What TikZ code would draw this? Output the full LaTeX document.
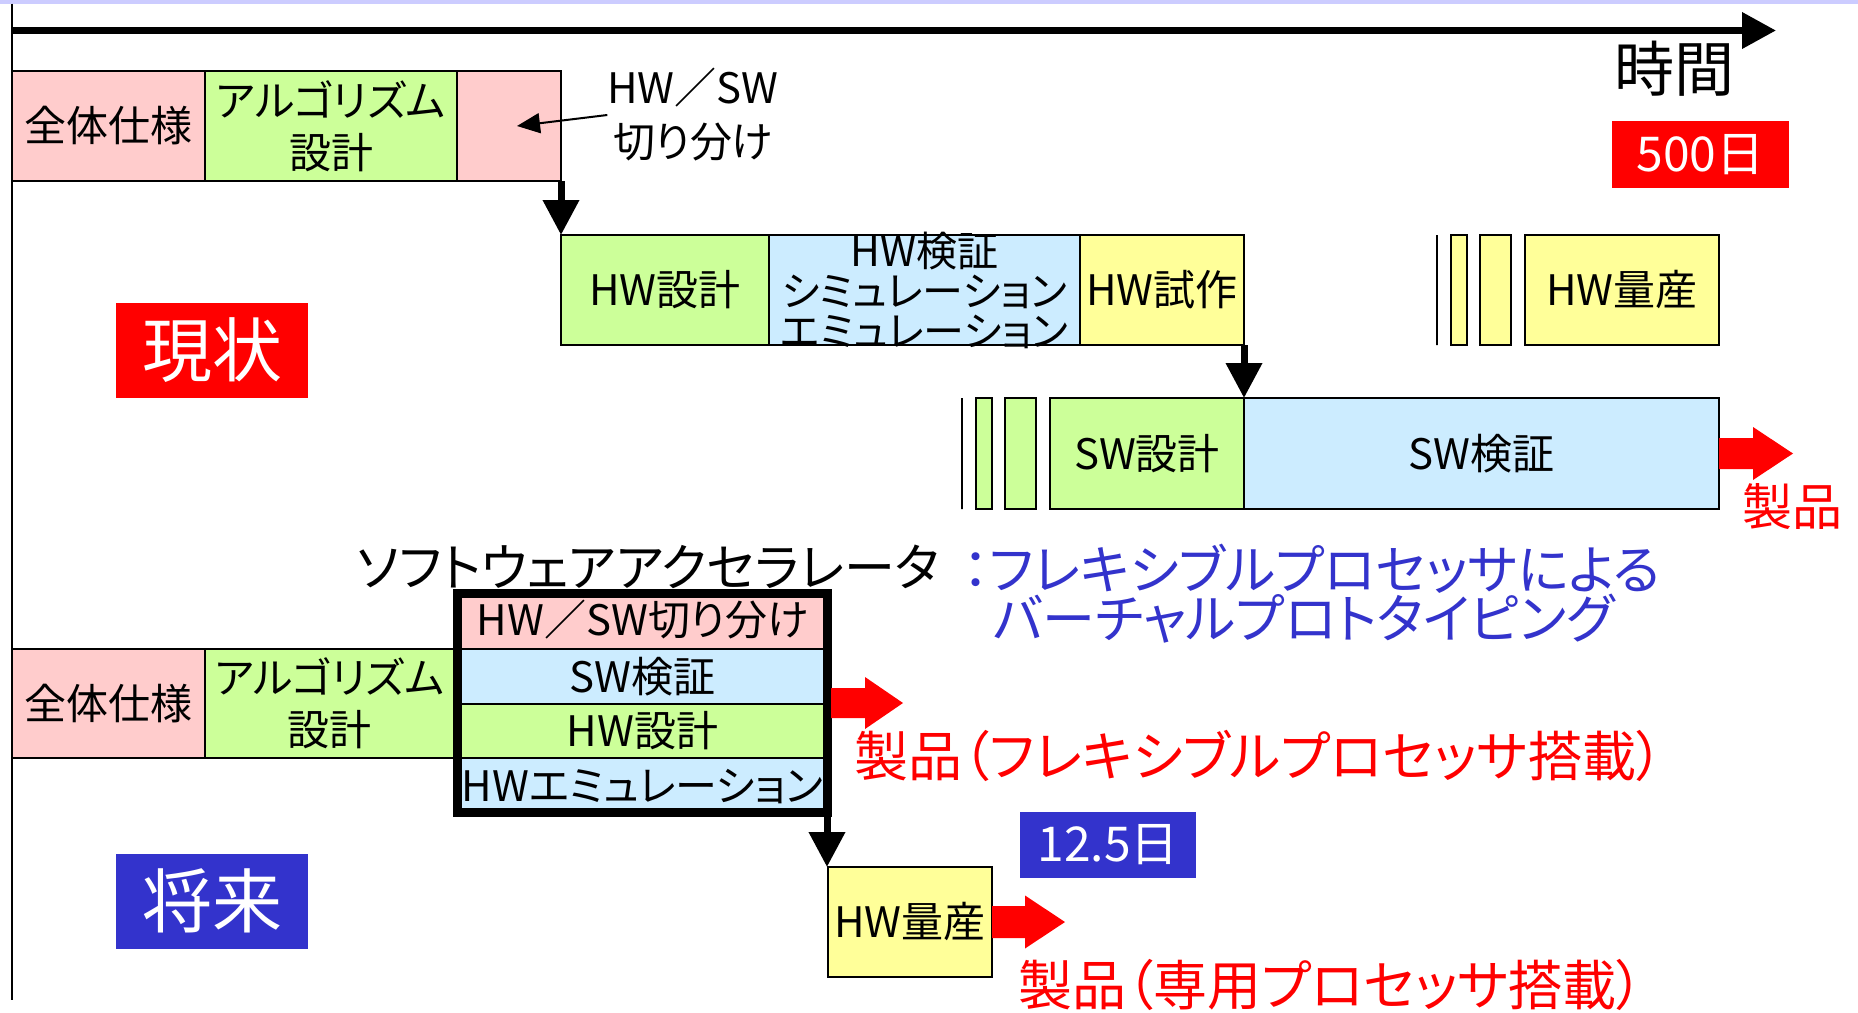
\documentclass[tikz,border=0pt]{standalone}
\usepackage{fontspec}
\setmainfont{Noto Sans CJK JP}[RawFeature=+palt]
\usetikzlibrary{arrows.meta}
\definecolor{pinkc}{HTML}{FFCCCC}
\definecolor{greenc}{HTML}{CCFF99}
\definecolor{bluec}{HTML}{CCECFF}
\definecolor{yellowc}{HTML}{FFFF99}
\definecolor{navy}{HTML}{3333CC}
\definecolor{lav}{HTML}{CCCCFF}
\newcommand{\fsz}[2]{\fontsize{#1pt}{#2pt}\selectfont}
\begin{document}
\begin{tikzpicture}[x=0.5pt,y=-0.5pt,
  box/.style={draw=black, line width=1pt, inner sep=0pt, outer sep=0pt, align=center, font=\fsz{21}{26}},
  tag/.style={inner sep=0pt, outer sep=0pt, align=center},
  dnarrow/.style={line width=3.5pt, -{Triangle[length=17.5pt,width=17.5pt]}},
]
\useasboundingbox (0,0) rectangle (1858,1012);
\fill[white] (0,0) rectangle (1858,1012);
\fill[lav] (0,0) rectangle (1858,3.5);
% axes
\coordinate (vl0) at (11.5,3.5);
\coordinate (vl1) at (11.5,1000);
\draw[line width=1pt] (vl0) -- (vl1);
\coordinate (ax0) at (11.5,30.5);
\coordinate (ax1) at (1776,30.5);
\draw[line width=3.5pt, -{Triangle[length=17pt,width=17.5pt]}] (ax0) -- (ax1);
\node[tag, font=\fsz{30}{30}] (time) at (1674,69) {時間};
\node[tag, fill=red, text=white, minimum width=88.5pt, minimum height=33.5pt, font=\fsz{24}{24}] (d500) at (1700.5,154.5) {500日};

% current: row A
\node[box, fill=pinkc, minimum width=96.75pt, minimum height=55pt] (a1) at (108.25,126) {全体仕様};
\node[box, fill=greenc, minimum width=126pt, minimum height=55pt] (a2) at (331,126) {アルゴリズム\\設計};
\node[box, fill=pinkc, minimum width=52pt, minimum height=55pt] (a3) at (509,126) {};
\node[tag, font=\fsz{21}{27}] (hwsw) at (693,115) {HW／SW\\切り分け};
\coordinate (hwswtip) at (517,126);
\draw[line width=1pt, -{Triangle[length=11.5pt,width=10pt]}] (hwsw.west) -- (hwswtip);

% row B
\node[box, fill=greenc, minimum width=104pt, minimum height=55pt] (b1) at (665,290) {HW設計};
\node[box, fill=bluec, minimum width=155.5pt, minimum height=55pt] (b2) at (924.5,290) {};
\node[tag, font=\fsz{20.5}{20}] (b2t) at (924.5,290) {HW検証\\シミュレーション\\エミュレーション};
\node[box, fill=yellowc, minimum width=82pt, minimum height=55pt] (b3) at (1162,290) {HW試作};
\node[box, minimum width=0pt, minimum height=55pt] (b4) at (1437,290) {};
\node[box, fill=yellowc, minimum width=8pt, minimum height=55pt] (b5) at (1459,290) {};
\node[box, fill=yellowc, minimum width=15.5pt, minimum height=55pt] (b6) at (1495.5,290) {};
\node[box, fill=yellowc, minimum width=97pt, minimum height=55pt] (b7) at (1622,290) {HW量産};

% row C
\node[box, minimum width=0pt, minimum height=55.5pt] (c0) at (962,453.5) {};
\node[box, fill=greenc, minimum width=8pt, minimum height=55.5pt] (c1) at (984,453.5) {};
\node[box, fill=greenc, minimum width=15.5pt, minimum height=55.5pt] (c2) at (1020.5,453.5) {};
\node[box, fill=greenc, minimum width=97pt, minimum height=55.5pt] (c3) at (1147,453.5) {SW設計};
\node[box, fill=bluec, minimum width=237.5pt, minimum height=55.5pt] (c4) at (1481.5,453.5) {SW検証};

\draw[dnarrow] (a3.south east) -- (b1.north west);
\draw[dnarrow] (b3.south east) -- (c3.north east);

\fill[red] (c4.east) ++(0,-15.5) -- ++(34,0) -- ++(0,-11) -- ++(40,26.5) -- ++(-40,26.5) -- ++(0,-11) -- ++(-34,0) -- cycle;
\node[tag, text=red, font=\fsz{25}{25}] (prod1) at (1792,507) {製品};

\node[tag, fill=red, text=white, minimum width=96pt, minimum height=47.5pt, font=\fsz{35}{35}] (now) at (212,350.5) {現状};

% future
\node[tag, font=\fsz{25.5}{25.5}, anchor=west] (swacc) at (357,567) {ソフトウェアアクセラレータ};
\node[tag, text=navy, font=\fsz{26.5}{26.5}, anchor=west] (fp1) at (963,569) {：フレキシブルプロセッサによる};
\node[tag, text=navy, font=\fsz{26.5}{26.5}, anchor=west] (fp2) at (993,619) {バーチャルプロトタイピング};

\node[box, fill=pinkc, minimum width=96.75pt, minimum height=54.5pt] (d1) at (108.25,703.5) {全体仕様};
\node[box, fill=greenc, minimum width=124.5pt, minimum height=54.5pt] (d2) at (329.5,703.5) {アルゴリズム\\設計};
\node[box, fill=pinkc, minimum width=188.5pt, minimum height=29.5pt] (e1) at (642.5,619.5) {HW／SW切り分け};
\node[box, fill=bluec, minimum width=188.5pt, minimum height=27.5pt] (e2) at (642.5,676.5) {SW検証};
\node[box, fill=greenc, minimum width=188.5pt, minimum height=27pt] (e3) at (642.5,731) {HW設計};
\node[box, fill=bluec, minimum width=188.5pt, minimum height=29pt] (e4) at (642.5,787) {HWエミュレーション};
\node[draw, line width=4pt, inner sep=0pt, outer sep=0pt, minimum width=184.5pt, minimum height=109pt] (acc) at (642.5,703) {};

\fill[red] ([xshift=2pt]acc.east) ++(0,-15) -- ++(34,0) -- ++(0,-11) -- ++(38,26) -- ++(-38,26) -- ++(0,-11) -- ++(-34,0) -- cycle;
\node[tag, text=red, font=\fsz{27}{27}] (prod2) at (1259,756) {製品（フレキシブルプロセッサ搭載）};

\node[tag, fill=navy, text=white, minimum width=88pt, minimum height=33pt, font=\fsz{24}{24}] (d125) at (1108,845) {12.5日};

\node[box, fill=yellowc, minimum width=82pt, minimum height=55pt] (f1) at (910,922) {HW量産};
\draw[dnarrow] (acc.south east) -- (acc.south east |- f1.north);
\fill[red] (f1.east) ++(0,-16) -- ++(33,0) -- ++(0,-10.5) -- ++(40,26.5) -- ++(-40,26.5) -- ++(0,-10.5) -- ++(-33,0) -- cycle;
\node[tag, text=red, font=\fsz{27}{27}] (prod3) at (1331,985) {製品（専用プロセッサ搭載）};

\node[tag, fill=navy, text=white, minimum width=96pt, minimum height=47.5pt, font=\fsz{35}{35}] (fut) at (212,901) {将来};
\end{tikzpicture}
\end{document}
